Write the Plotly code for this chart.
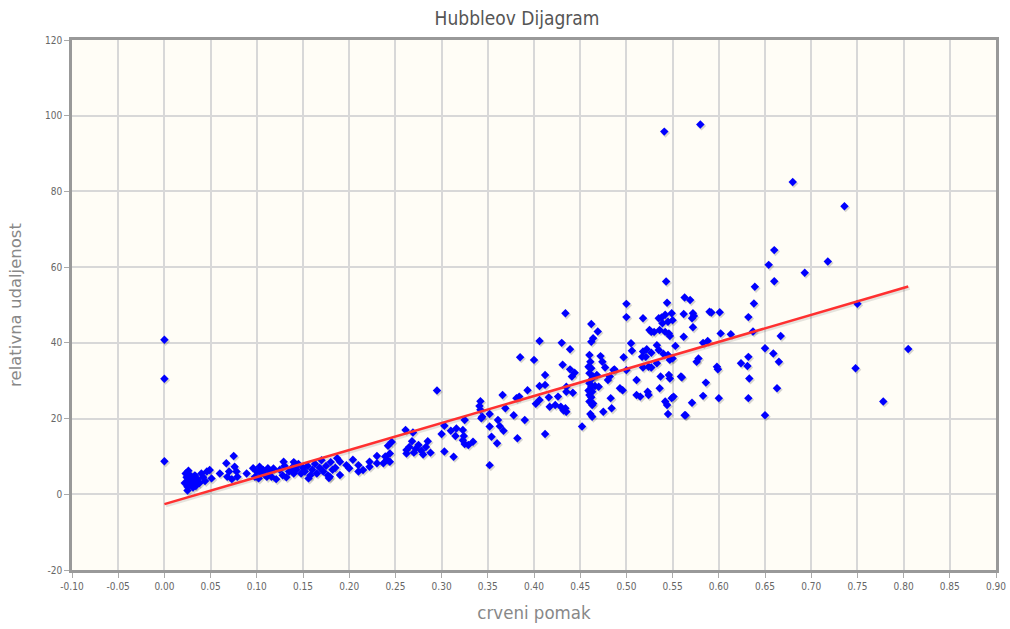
import plotly.graph_objects as go

# ---- data ----
redshift = [
    0.000, 0.000, 0.000,
    0.022, 0.023, 0.024, 0.025, 0.025, 0.026, 0.027, 0.028, 0.029, 0.030, 0.031, 0.032, 0.033, 0.034, 0.036, 0.038, 0.040, 0.042, 0.044, 0.046, 0.049, 0.051,
    0.060, 0.067, 0.075, 0.070, 0.068, 0.073, 0.076, 0.078, 0.079, 0.089, 0.096, 0.100, 0.098, 0.103, 0.105, 0.107, 0.109, 0.111, 0.112, 0.114, 0.102, 0.116, 0.118, 0.121,
    0.125, 0.128, 0.129, 0.130, 0.132, 0.135, 0.138, 0.140, 0.140, 0.143, 0.145, 0.148, 0.150, 0.152, 0.155, 0.156, 0.158, 0.160, 0.163, 0.165, 0.168, 0.170, 0.172, 0.175, 0.177, 0.180, 0.182, 0.185, 0.187, 0.178, 0.179,
    0.190, 0.190, 0.197, 0.200, 0.204, 0.210, 0.210, 0.215, 0.222, 0.222, 0.230, 0.230, 0.237, 0.239, 0.241, 0.242, 0.244, 0.244, 0.246,
    0.261, 0.269, 0.262, 0.262, 0.265, 0.268, 0.270, 0.272, 0.275, 0.278, 0.280, 0.283, 0.285, 0.288, 0.295,
    0.300, 0.303, 0.303, 0.313, 0.310, 0.315, 0.316, 0.323, 0.324, 0.323, 0.325, 0.329, 0.334, 0.325, 0.342, 0.341, 0.342, 0.344, 0.343, 0.352, 0.352, 0.352, 0.354, 0.360, 0.361, 0.363, 0.367, 0.366, 0.369, 0.378, 0.382, 0.381, 0.384, 0.385, 0.390, 0.393,
    0.400, 0.406, 0.402, 0.406, 0.412, 0.412, 0.416, 0.417, 0.423, 0.426, 0.429, 0.432, 0.434, 0.435, 0.412, 0.434, 0.430, 0.439, 0.431, 0.439, 0.441, 0.444, 0.435, 0.442, 0.452, 0.406, 0.435,
    0.460, 0.461, 0.459, 0.462, 0.460, 0.463, 0.460, 0.462, 0.459, 0.463, 0.460, 0.462, 0.460, 0.463, 0.461, 0.463, 0.462, 0.469, 0.462, 0.464, 0.464, 0.466, 0.470, 0.468, 0.464,
    0.472, 0.474, 0.477, 0.482, 0.480, 0.483, 0.484, 0.475, 0.487, 0.493, 0.496, 0.497, 0.500, 0.500, 0.505, 0.506, 0.511, 0.511, 0.486, 0.500, 0.515,
    0.518, 0.518, 0.522, 0.517, 0.521, 0.527, 0.533, 0.535, 0.540, 0.547, 0.550, 0.553, 0.545, 0.524, 0.518, 0.527, 0.533, 0.523, 0.524, 0.537, 0.546, 0.547, 0.559, 0.536, 0.551, 0.549, 0.542, 0.544, 0.545, 0.563,
    0.535, 0.538, 0.542, 0.539, 0.545, 0.549, 0.550, 0.536, 0.542, 0.546, 0.547, 0.525, 0.527, 0.530, 0.543, 0.544, 0.541, 0.580,
    0.563, 0.569, 0.562, 0.572, 0.571, 0.573, 0.572, 0.590, 0.592, 0.601, 0.602, 0.613, 0.562, 0.583, 0.588, 0.576, 0.578, 0.598, 0.599, 0.560, 0.586, 0.583, 0.600, 0.571, 0.564,
    0.639, 0.638, 0.632, 0.637, 0.650, 0.659, 0.665, 0.624, 0.632, 0.631, 0.633, 0.632, 0.650, 0.663, 0.680, 0.736, 0.718, 0.693, 0.660, 0.654, 0.660, 0.667, 0.750, 0.805, 0.748, 0.778,
]
distance = [
    40.8, 30.5, 8.7,
    3.0, 5.5, 4.5, 2.0, 1.0, 6.2, 3.5, 5.0, 2.5, 4.0, 1.8, 3.0, 5.0, 2.2, 4.0, 3.0, 5.5, 4.5, 3.5, 6.0, 6.4, 4.2,
    5.5, 8.2, 10.1, 6.0, 4.6, 4.0, 7.3, 6.0, 4.6, 5.5, 6.9, 6.0, 4.6, 7.3, 5.5, 6.4, 5.1, 4.6, 6.9, 6.0, 4.2, 4.6, 6.8, 4.0,
    6.5, 5.0, 8.6, 7.5, 4.5, 6.0, 7.0, 5.5, 8.5, 6.5, 8.0, 5.5, 7.0, 6.0, 7.5, 4.2, 5.0, 6.5, 8.0, 5.5, 7.0, 9.0, 6.0, 7.5, 5.0, 8.5, 6.5, 7.0, 9.5, 4.3, 4.6,
    5.1, 8.6, 7.7, 6.9, 9.1, 6.0, 7.7, 6.4, 7.3, 8.6, 8.2, 10.1, 8.2, 10.0, 9.1, 12.8, 10.8, 8.6, 13.8,
    17.0, 16.3, 11.7, 10.8, 12.5, 14.0, 11.0, 12.0, 13.0, 11.5, 10.5, 12.5, 14.0, 11.0, 27.4,
    15.9, 18.1, 11.3, 9.9, 16.8, 15.4, 17.4, 17.0, 15.4, 14.3, 13.3, 13.0, 13.9, 19.6, 24.6, 23.3, 22.3, 20.5, 20.1, 7.7, 21.2, 17.9, 15.2, 13.5, 19.6, 18.0, 16.8, 26.2, 22.7, 20.9, 14.8, 25.4, 25.8, 36.2, 19.6, 27.5,
    35.5, 40.5, 23.9, 24.9, 31.5, 28.9, 25.6, 23.1, 23.6, 25.8, 23.1, 22.1, 22.7, 28.4, 15.9, 47.8, 40.0, 38.3, 34.2, 33.0, 31.1, 32.1, 27.1, 26.8, 17.9, 28.6, 21.8,
    36.8, 35.0, 33.7, 33.3, 32.0, 30.6, 29.3, 28.4, 27.4, 27.1, 26.2, 25.6, 24.5, 23.6, 21.2, 20.5, 45.0, 43.0, 40.3, 41.2, 31.1, 28.6, 28.4, 31.5, 24.0,
    36.5, 35.0, 33.5, 31.1, 30.2, 25.4, 22.7, 21.8, 33.0, 28.0, 27.5, 36.2, 50.3, 46.8, 39.9, 37.9, 30.2, 26.2, 32.8, 32.8, 25.8,
    46.5, 37.7, 38.3, 36.3, 36.3, 37.4, 39.4, 38.1, 37.1, 35.5, 35.9, 39.2, 36.8, 33.7, 33.5, 33.5, 34.6, 27.1, 26.2, 31.1, 31.5, 30.6, 31.1, 28.0, 25.8, 25.4, 24.5, 23.6, 21.2, 20.9,
    46.5, 46.7, 47.4, 45.2, 45.6, 47.8, 46.0, 43.4, 42.9, 42.5, 41.8, 43.4, 42.9, 42.9, 56.2, 50.6, 95.8, 97.7,
    52.0, 51.3, 47.6, 47.8, 46.5, 47.1, 44.1, 48.2, 48.0, 48.1, 42.5, 42.3, 41.6, 40.0, 40.5, 35.0, 35.9, 33.7, 33.0, 30.9, 29.5, 26.0, 25.4, 24.2, 20.9,
    54.8, 50.4, 46.8, 43.0, 38.6, 37.2, 35.0, 34.6, 36.3, 33.9, 30.6, 25.4, 20.9, 28.0, 82.5, 76.1, 61.5, 58.5, 64.5, 60.6, 56.3, 41.8, 50.3, 38.4, 33.3, 24.5,
]
fit_x = [0.0, 0.805]
fit_y = [-2.6, 54.9]

x_ticks = [round(-0.10 + 0.05 * i, 2) for i in range(21)]
x_ticklabels = ["%.2f" % v for v in x_ticks]
y_ticks = [-20, 0, 20, 40, 60, 80, 100, 120]
y_ticklabels = [str(v) for v in y_ticks]

title_text = "Hubbleov Dijagram"
x_title = "crveni pomak"
y_title = "relativna udaljenost"

# ---- figure ----
PX_X = 1.0 / 924.0    # data units per pixel (x)
PX_Y = 140.0 / 530.0  # data units per pixel (y)

fig = go.Figure()

# shadows (offset copies, jqPlot style)
fig.add_trace(go.Scatter(
    x=[v + 1.5 * PX_X for v in fit_x], y=[v - 1.5 * PX_Y for v in fit_y],
    mode="lines", line=dict(color="rgba(0,0,0,0.10)", width=3.5),
    hoverinfo="skip", showlegend=False))
fig.add_trace(go.Scatter(
    x=[v + 1.2 * PX_X for v in redshift], y=[v - 1.5 * PX_Y for v in distance],
    mode="markers", marker=dict(symbol="diamond", size=7, color="rgba(0,0,0,0.16)", line=dict(width=0)),
    hoverinfo="skip", showlegend=False))

fig.add_trace(go.Scatter(
    x=redshift, y=distance, mode="markers",
    marker=dict(symbol="diamond", size=6.5, color="#0000ff", line=dict(width=0)),
    showlegend=False))
fig.add_trace(go.Scatter(
    x=fit_x, y=fit_y, mode="lines",
    line=dict(color="#ff3030", width=2.5), showlegend=False))

narrow = "DejaVu Sans Condensed, Liberation Sans Narrow, sans-serif"
axis_font = dict(family=narrow, size=10, color="#666666")

fig.update_layout(
    width=1010, height=629,
    margin=dict(l=72, r=14, t=40, b=59, autoexpand=False),
    paper_bgcolor="white",
    plot_bgcolor="#fffdf6",
    title=dict(text=title_text, x=517 / 1010, xanchor="center", y=1 - 18 / 629, yanchor="middle",
               automargin=False,
               font=dict(family=narrow, size=19, color="#555555")),
    xaxis=dict(
        range=[-0.10, 0.90], tickvals=x_ticks, ticktext=x_ticklabels, automargin=False,
        showgrid=True, gridcolor="#d8d8d8", gridwidth=1.5, zeroline=False,
        showline=True, linecolor="#999999", linewidth=2.5, mirror=True,
        ticks="outside", ticklen=5, tickcolor="#aaaaaa", tickfont=axis_font,
        title=dict(text=x_title, font=dict(family=narrow, size=18.5, color="#888888"), standoff=16),
    ),
    yaxis=dict(
        range=[-20, 120], tickvals=y_ticks, ticktext=y_ticklabels, automargin=False,
        showgrid=True, gridcolor="#d8d8d8", gridwidth=1.5, zeroline=False,
        showline=True, linecolor="#999999", linewidth=2.5, mirror=True,
        ticks="outside", ticklen=5, tickcolor="#aaaaaa", tickfont=axis_font,
        title=dict(text=y_title, font=dict(family="DejaVu Sans, sans-serif", size=16.5, color="#888888"), standoff=20),
    ),
)

fig.write_html("out.html",
               config={"displayModeBar": False},
               post_script="document.body.style.margin='0';document.body.style.overflow='hidden';")
